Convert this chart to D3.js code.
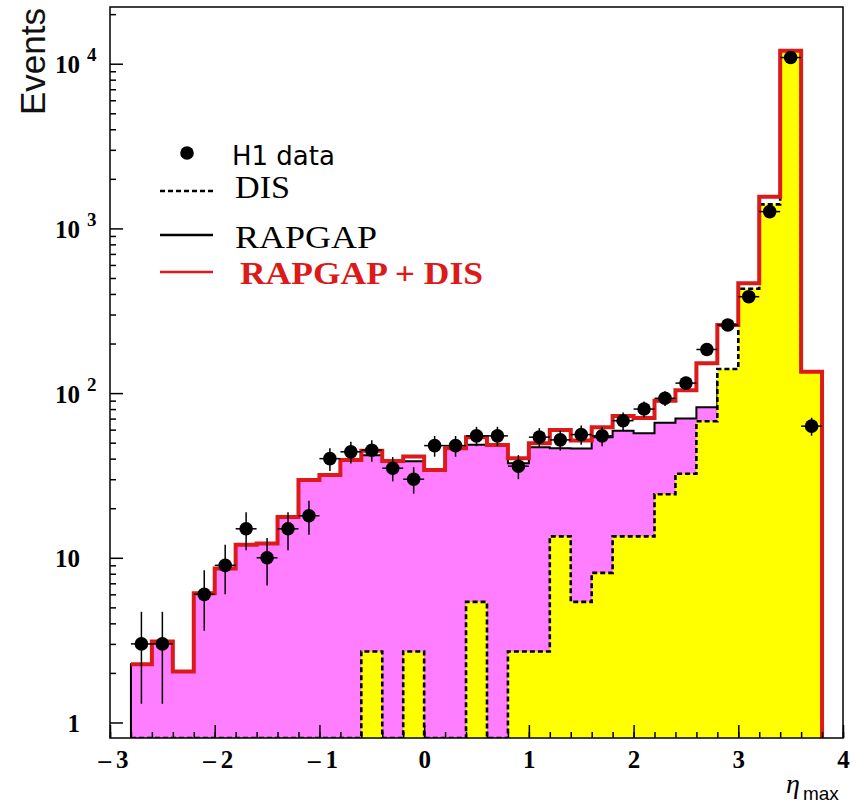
<!DOCTYPE html>
<html>
<head>
<meta charset="utf-8">
<script src="https://cdn.jsdelivr.net/npm/d3@7"></script>
<style>
  body { margin: 0; background: #fff; }
  svg { display: block; }
</style>
</head>
<body>
<div id="chart"></div>
<script>
// eta_max bins: lower edges, every bin is 0.2 wide
var binLow = [-2.8, -2.6, -2.4, -2.2, -2.0, -1.8, -1.6, -1.4, -1.2, -1.0, -0.8,
  -0.6, -0.4, -0.2, 0.0, 0.2, 0.4, 0.6, 0.8, 1.0, 1.2, 1.4, 1.6, 1.8, 2.0,
  2.2, 2.4, 2.6, 2.8, 3.0, 3.2, 3.4, 3.6];
var binWidth = 0.2;

// H1 data (0 = empty bin, no marker)
var h1Data = [3, 3, 0, 6, 9, 15, 10, 15, 18, 40, 44, 45, 35, 30, 48, 48, 55, 55,
  36, 54, 52, 56, 55, 68, 80, 93, 115, 184, 259, 385, 1265, 10900, 63];
var h1Err = [1.7, 1.7, 0, 2.4, 3, 3.9, 3.2, 3.9, 4.2, 6.3, 6.6, 6.7, 5.9, 5.5, 6.9, 6.9,
  7.4, 7.4, 6, 7.3, 7.2, 7.5, 7.4, 8.2, 8.9, 9.6, 10.7, 13.6, 16.1, 19.6, 35.6, 104, 7.9];

// Monte Carlo histograms
var disMC = [0, 0, 0, 0, 0, 0, 0, 0, 0, 0, 0, 2.7, 0, 2.7, 0, 0, 5.4, 0, 2.7, 2.7,
  13.5, 5.4, 8.1, 13.5, 13.5, 24.3, 32.4, 67.5, 140, 430, 1400, 12000, 135];
var rapgapMC = [2.26, 3.1, 2.04, 6.1, 8.6, 12, 12.2, 17.7, 29.7, 31.8, 39.3, 42, 38.7,
  38.5, 34.1, 46.3, 48.5, 48.4, 37.5, 46.9, 46.3, 46.1, 53.9, 59, 57, 66, 70, 82,
  118, 34, 157, 200, 1];
var sumMC = [2.26, 3.1, 2.04, 6.1, 8.6, 12, 12.2, 17.7, 29.7, 31.8, 39.3, 44.7, 38.7,
  41.2, 34.1, 46.3, 53.9, 48.4, 40.2, 49.6, 59.8, 51.5, 62, 72.5, 70.5, 90, 104, 152,
  259, 464, 1557, 12000, 135];

var xTickLabels = [-3, -2, -1, 0, 1, 2, 3, 4];
var yTickValues = [1, 10, 100, 1000, 10000];
var legendLabels = ["H1 data", "DIS", "RAPGAP", "RAPGAP + DIS"];

var colors = {
  rapgap: "#ff7dff",
  dis: "#ffff00",
  sum: "#dd1a1a"
};

var dims = { width: 859, height: 803, left: 110, right: 843, top: 7, bottom: 738 };
var serif = "'Liberation Serif', 'Times New Roman', serif";
var sans = "'Liberation Sans', Arial, sans-serif";

var svg = d3.select("#chart")
  .append("svg")
  .attr("width", dims.width)
  .attr("height", dims.height);

var x = d3.scaleLinear()
  .domain([-3, 4])
  .range([dims.left, dims.right]);

var y = d3.scaleLog()
  .domain([0.805, 22100])
  .range([dims.bottom, dims.top]);

// empty bins sit on the bottom of the frame
function yv(v) {
  return v > 0 ? y(v) : dims.bottom;
}

function steps(vals) {
  var pts = [];
  vals.forEach(function(v, i) {
    pts.push([x(binLow[i]), yv(v)]);
    pts.push([x(binLow[i] + binWidth), yv(v)]);
  });
  return pts;
}

var xFirst = x(binLow[0]);
var xLast = x(binLow[binLow.length - 1] + binWidth);

svg.append("clipPath")
  .attr("id", "plot-clip")
  .append("rect")
  .attr("x", dims.left)
  .attr("y", dims.top)
  .attr("width", dims.right - dims.left)
  .attr("height", dims.bottom - dims.top);

var plot = svg.append("g").attr("clip-path", "url(#plot-clip)");

var area = d3.area()
  .x(function(d) { return d[0]; })
  .y0(dims.bottom)
  .y1(function(d) { return d[1]; });
var line = d3.line();

// RAPGAP: magenta fill + thin black outline
plot.append("path")
  .attr("d", area(steps(rapgapMC)))
  .attr("fill", colors.rapgap);
plot.append("path")
  .attr("d", line([[xFirst, dims.bottom]].concat(steps(rapgapMC), [[xLast, dims.bottom]])))
  .attr("fill", "none")
  .attr("stroke", "#000")
  .attr("stroke-width", 2);

// DIS: yellow fill + dashed outline
plot.append("path")
  .attr("d", area(steps(disMC)))
  .attr("fill", colors.dis);
plot.append("path")
  .attr("d", line([[xFirst, dims.bottom]].concat(steps(disMC), [[xLast, dims.bottom]])))
  .attr("fill", "none")
  .attr("stroke", "#000")
  .attr("stroke-width", 2.6)
  .attr("stroke-dasharray", "5,3");

// RAPGAP + DIS: thick red line (no left edge)
plot.append("path")
  .attr("d", line(steps(sumMC).concat([[xLast, dims.bottom]])))
  .attr("fill", "none")
  .attr("stroke", colors.sum)
  .attr("stroke-width", 4);

/** axes **/

var xMinor = d3.range(-3, 4.001, 0.2);
var yMinor = [];
yTickValues.forEach(function(d) {
  for (var k = 2; k < 10; k++) if (d * k < 22100) yMinor.push(d * k);
});

function fmtX(v) {
  return v < 0 ? "\u2013\u2009" + Math.abs(v) : String(v);
}

var xAxisG = svg.append("g").attr("transform", "translate(0," + dims.bottom + ")");
xAxisG.append("g")
  .call(d3.axisBottom(x).tickValues(xMinor).tickSize(-6).tickSizeOuter(0).tickFormat(""));
xAxisG.append("g")
  .call(d3.axisBottom(x).tickValues(xTickLabels).tickSize(-13).tickSizeOuter(0).tickFormat(fmtX));

var yAxisG = svg.append("g").attr("transform", "translate(" + dims.left + ",0)");
yAxisG.append("g")
  .call(d3.axisLeft(y).tickValues(yMinor).tickSize(-6).tickSizeOuter(0).tickFormat(""));
var yMajorG = yAxisG.append("g")
  .call(d3.axisLeft(y).tickValues(yTickValues).tickSize(-13).tickSizeOuter(0).tickFormat(""));

svg.selectAll(".domain").remove();
svg.selectAll(".tick line").attr("stroke", "#000").attr("stroke-width", 1.5);

xAxisG.selectAll(".tick text")
  .attr("y", 30)
  .attr("dy", 0)
  .attr("dx", function(d) { return d < 0 ? 3 : 0; })
  .attr("fill", "#000")
  .style("font-family", serif)
  .style("font-weight", "bold")
  .style("font-size", "25px");

// y labels: 1, 10, then 10 with a superscript exponent
yMajorG.selectAll(".tick").each(function(d) {
  var g = d3.select(this);
  var expo = Math.round(Math.log10(d));
  g.append("text")
    .attr("x", -30)
    .attr("y", 9)
    .attr("text-anchor", "end")
    .attr("fill", "#000")
    .style("font-family", serif)
    .style("font-weight", "bold")
    .style("font-size", "25px")
    .text(expo === 0 ? "1" : "10");
  if (expo > 1) {
    g.append("text")
      .attr("x", -23)
      .attr("y", -3)
      .attr("text-anchor", "start")
      .attr("fill", "#000")
      .style("font-family", serif)
      .style("font-weight", "bold")
      .style("font-size", "19px")
      .text(expo);
  }
});

// frame
svg.append("rect")
  .attr("x", dims.left)
  .attr("y", dims.top)
  .attr("width", dims.right - dims.left)
  .attr("height", dims.bottom - dims.top)
  .attr("fill", "none")
  .attr("stroke", "#000")
  .attr("stroke-width", 1.5);

/** data points **/

var pts = binLow.map(function(lo, i) {
  return { c: lo + binWidth / 2, n: h1Data[i], e: h1Err[i] };
}).filter(function(d) { return d.n > 0; });

var dataG = plot.append("g");
dataG.selectAll("line.ev")
  .data(pts).enter().append("line")
  .attr("class", "ev")
  .attr("x1", function(d) { return x(d.c); })
  .attr("x2", function(d) { return x(d.c); })
  .attr("y1", function(d) { return yv(d.n + d.e); })
  .attr("y2", function(d) { return yv(d.n - d.e); })
  .attr("stroke", "#000")
  .attr("stroke-width", 1.5);
dataG.selectAll("line.eh")
  .data(pts).enter().append("line")
  .attr("class", "eh")
  .attr("x1", function(d) { return x(d.c - binWidth / 2); })
  .attr("x2", function(d) { return x(d.c + binWidth / 2); })
  .attr("y1", function(d) { return y(d.n); })
  .attr("y2", function(d) { return y(d.n); })
  .attr("stroke", "#000")
  .attr("stroke-width", 1.5);
dataG.selectAll("circle")
  .data(pts).enter().append("circle")
  .attr("cx", function(d) { return x(d.c); })
  .attr("cy", function(d) { return y(d.n); })
  .attr("r", 6.8)
  .attr("fill", "#000");

/** titles **/

svg.append("text")
  .attr("transform", "translate(45,115) rotate(-90)")
  .attr("text-anchor", "start")
  .attr("fill", "#111")
  .style("font-family", sans)
  .style("font-size", "35px")
  .text("Events");

var xTitle = svg.append("text")
  .attr("x", 786)
  .attr("y", 793)
  .attr("fill", "#000");
xTitle.append("tspan")
  .style("font-family", serif)
  .style("font-style", "italic")
  .style("font-size", "28px")
  .text("\u03b7");
xTitle.append("tspan")
  .attr("dx", 3)
  .attr("dy", 7)
  .style("font-family", sans)
  .style("font-size", "19px")
  .text("max");

/** legend **/

var legend = svg.append("g");
legend.append("circle")
  .attr("cx", 187).attr("cy", 153).attr("r", 6.8).attr("fill", "#000");
legend.append("text")
  .attr("x", 232).attr("y", 165)
  .attr("fill", "#000")
  .style("font-family", "'DejaVu Sans', sans-serif")
  .style("font-size", "26px")
  .text(legendLabels[0]);

var legendRows = [
  { label: legendLabels[1], ly: 191, ty: 198, tx: 235, w: 55, stroke: "#000", dash: "5,3", bold: false },
  { label: legendLabels[2], ly: 235, ty: 248, tx: 235, w: 142, stroke: "#000", dash: null, bold: false },
  { label: legendLabels[3], ly: 272, ty: 284, tx: 240, w: 243, stroke: colors.sum, dash: null, bold: true }
];
legendRows.forEach(function(r) {
  legend.append("line")
    .attr("x1", 160).attr("x2", 213)
    .attr("y1", r.ly).attr("y2", r.ly)
    .attr("stroke", r.stroke)
    .attr("stroke-width", 2.5)
    .attr("stroke-dasharray", r.dash);
  legend.append("text")
    .attr("x", r.tx).attr("y", r.ty)
    .attr("textLength", r.w)
    .attr("lengthAdjust", "spacingAndGlyphs")
    .attr("fill", r.bold ? colors.sum : "#000")
    .style("font-family", serif)
    .style("font-weight", r.bold ? "bold" : "normal")
    .style("font-size", "31px")
    .text(r.label);
});
</script>
</body>
</html>
